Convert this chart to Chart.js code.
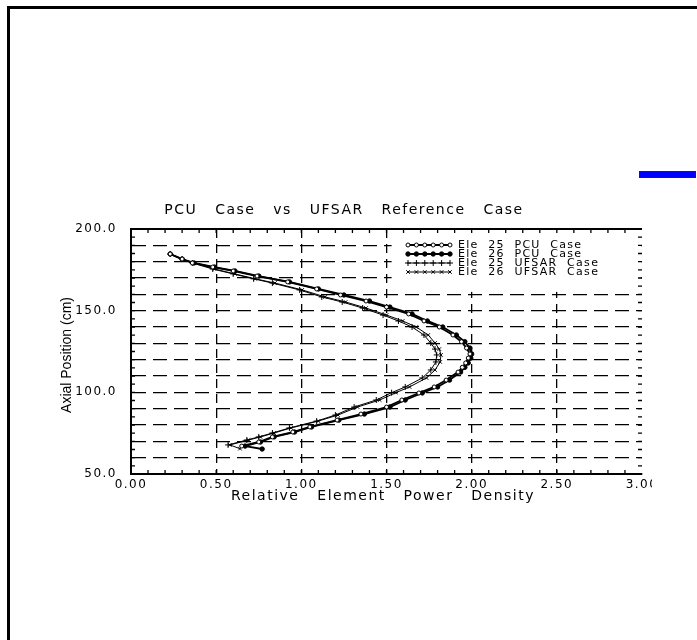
<!DOCTYPE html>
<html>
<head>
<meta charset="utf-8">
<script src="https://cdn.jsdelivr.net/npm/chart.js@4.4.1/dist/chart.umd.min.js"></script>
<style>
  html, body { margin: 0; padding: 0; background: #fff; }
  body { width: 697px; height: 640px; position: relative; overflow: hidden; }
  #frame { position: absolute; left: 7px; top: 6px; right: 0; bottom: 0; border-left: 3px solid #000; border-top: 3px solid #000; }
  #bar { position: absolute; left: 639px; top: 171px; width: 55px; height: 5px; background: #0000ff; border: 1px solid #222; }
  #wrap { position: absolute; left: 0; top: 0; width: 652px; height: 640px; }
</style>
</head>
<body>
<div id="frame"></div>
<div id="bar"></div>
<div id="wrap"><canvas id="chart"></canvas></div>
<script>
// axial position (cm) and relative element power density
const pcu25Y = [184.7, 181.6, 179.2, 176.7, 174.3, 171.2, 167.6, 163.3, 159.6, 155.9,
  152.2, 148.0, 143.7, 140.0, 135.1, 131.0, 127.1, 123.5, 121.0, 118.0,
  115.3, 112.4, 107.5, 103.3, 99.6, 95.3, 91.0, 86.7, 83.0, 78.8,
  75.7, 72.7, 69.6, 67.1];
const pcu25X = [0.23, 0.30, 0.36, 0.48, 0.60, 0.74, 0.92, 1.09, 1.23, 1.38,
  1.50, 1.63, 1.72, 1.81, 1.89, 1.94, 1.97, 1.99, 1.98, 1.965,
  1.945, 1.92, 1.85, 1.78, 1.69, 1.59, 1.50, 1.35, 1.21, 1.05,
  0.95, 0.83, 0.75, 0.65];

const pcu26Y = [184.7, 181.6, 179.2, 176.7, 174.3, 171.2, 167.6, 163.3, 159.6, 155.9,
  152.2, 148.0, 143.7, 140.0, 135.1, 131.0, 127.1, 123.5, 121.0, 118.0,
  115.3, 112.4, 107.5, 103.3, 99.6, 95.3, 91.0, 86.7, 83.0, 78.8,
  75.7, 72.7, 69.6, 67.1, 65.3];
const pcu26X = [0.23, 0.30, 0.37, 0.49, 0.61, 0.75, 0.93, 1.10, 1.25, 1.40,
  1.52, 1.65, 1.74, 1.83, 1.91, 1.96, 1.99, 2.00, 1.995, 1.98,
  1.96, 1.935, 1.87, 1.80, 1.71, 1.61, 1.52, 1.37, 1.22, 1.06,
  0.96, 0.84, 0.76, 0.67, 0.77];

const ufsar25Y = [184.7, 181.6, 179.2, 175.5, 172.5, 169.5, 166.9, 162.7, 158.4, 155.3,
  151.6, 147.3, 143.7, 140.0, 135.1, 130.2, 126.5, 122.9, 118.6, 113.7,
  108.8, 103.3, 99.8, 95.3, 91.0, 86.1, 82.4, 78.2, 75.1, 72.7,
  70.8, 67.8];
const ufsar25X = [0.23, 0.30, 0.36, 0.48, 0.60, 0.72, 0.83, 0.99, 1.12, 1.24,
  1.36, 1.48, 1.57, 1.65, 1.72, 1.76, 1.785, 1.795, 1.79, 1.76,
  1.71, 1.61, 1.53, 1.44, 1.31, 1.20, 1.09, 0.93, 0.83, 0.75,
  0.68, 0.57];

const ufsar26Y = [184.7, 181.6, 179.2, 175.5, 172.5, 169.5, 166.9, 162.7, 158.4, 155.3,
  151.6, 147.3, 143.7, 140.0, 135.1, 130.2, 126.5, 122.9, 118.6, 113.7,
  108.8, 103.3, 99.8, 95.3, 91.0, 86.1, 82.4, 78.2, 75.1, 72.7,
  70.8, 67.8, 65.5];
const ufsar26X = [0.23, 0.30, 0.37, 0.49, 0.61, 0.73, 0.845, 1.005, 1.14, 1.26,
  1.38, 1.50, 1.595, 1.675, 1.745, 1.785, 1.81, 1.82, 1.815, 1.785,
  1.735, 1.635, 1.555, 1.46, 1.33, 1.215, 1.10, 0.94, 0.84, 0.76,
  0.69, 0.58, 0.64];

const seriesNames = ['Ele  25  PCU  Case', 'Ele  26  PCU  Case', 'Ele  25  UFSAR  Case', 'Ele  26  UFSAR  Case'];
const xTickLabels = ['0.00', '0.50', '1.00', '1.50', '2.00', '2.50', '3.00'];
const yTickLabels = ['50.0', '100.0', '150.0', '200.0'];

const pts = (xs, ys) => xs.map((v, i) => ({ x: v, y: ys[i] }));

const chartText = {
  id: 'chartText',
  beforeDraw(chart) {
    chart.ctx.letterSpacing = '1.5px';
  },
  beforeDatasetsDraw(chart) {
    const { ctx, chartArea: a, scales: { x, y } } = chart;
    ctx.save();
    // blank space kept for the key
    const lx = x.getPixelForValue(1.53), ty = y.getPixelForValue(199.6);
    ctx.fillStyle = '#fff';
    ctx.fillRect(lx, ty, a.right - 1 - lx, y.getPixelForValue(161.5) - ty);
    // top edge
    ctx.strokeStyle = '#000';
    ctx.lineWidth = 2;
    ctx.beginPath();
    ctx.moveTo(a.left, a.top);
    ctx.lineTo(a.right, a.top);
    ctx.stroke();
    // minor ticks pointing inward
    ctx.lineWidth = 1.3;
    ctx.beginPath();
    for (let k = 1; k < 30; k++) {
      const px = x.getPixelForValue(k / 10);
      ctx.moveTo(px, a.bottom); ctx.lineTo(px, a.bottom - 4);
      ctx.moveTo(px, a.top); ctx.lineTo(px, a.top + 4);
    }
    for (let v = 55; v < 200; v += 5) {
      const py = y.getPixelForValue(v);
      ctx.moveTo(a.left, py); ctx.lineTo(a.left + 4, py);
      ctx.moveTo(a.right, py); ctx.lineTo(a.right - 4, py);
    }
    ctx.stroke();
    ctx.restore();
  },
  afterDraw(chart) {
    const { ctx, chartArea: a } = chart;
    ctx.save();
    ctx.fillStyle = '#000';
    ctx.textBaseline = 'middle';

    ctx.letterSpacing = '1.5px';
    ctx.font = '14px "DejaVu Sans"';
    ctx.textAlign = 'center';
    ctx.fillText('PCU   Case   vs   UFSAR   Reference   Case', 344, 210);
    ctx.fillText('Relative   Element   Power   Density', 383, 496);

    ctx.letterSpacing = '0px';
    ctx.font = '14px "Liberation Sans"';
    ctx.translate(67, 355);
    ctx.rotate(-Math.PI / 2);
    ctx.fillText('Axial Position (cm)', 0, 0);
    ctx.setTransform(1, 0, 0, 1, 0, 0);

    // key
    ctx.letterSpacing = '1.3px';
    ctx.font = '11px "DejaVu Sans"';
    ctx.textAlign = 'left';
    chart.data.datasets.forEach((ds, i) => {
      const yy = 245 + i * 9;
      ctx.strokeStyle = '#000';
      ctx.lineWidth = ds.borderWidth;
      ctx.beginPath();
      ctx.moveTo(407, yy);
      ctx.lineTo(450, yy);
      ctx.stroke();
      ctx.lineWidth = ds.pointBorderWidth;
      ctx.fillStyle = ds.pointBackgroundColor;
      for (let k = 0; k < 6; k++) {
        Chart.helpers.drawPoint(ctx, {
          pointStyle: ds.pointStyle, radius: ds.pointRadius,
          borderWidth: ds.pointBorderWidth, rotation: 0
        }, 408 + k * 8.4, yy);
      }
      ctx.fillStyle = '#000';
      ctx.fillText(seriesNames[i], 458, yy + 0.5);
    });
    ctx.restore();
  }
};

new Chart(document.getElementById('chart'), {
  type: 'scatter',
  data: {
    datasets: [
      { label: seriesNames[0], data: pts(pcu25X, pcu25Y), showLine: true, borderColor: '#000', borderWidth: 1.8,
        pointStyle: 'circle', pointRadius: 2, pointBackgroundColor: '#fff', pointBorderColor: '#000', pointBorderWidth: 1 },
      { label: seriesNames[1], data: pts(pcu26X, pcu26Y), showLine: true, borderColor: '#000', borderWidth: 1.8,
        pointStyle: 'circle', pointRadius: 2.2, pointBackgroundColor: '#000', pointBorderColor: '#000', pointBorderWidth: 1 },
      { label: seriesNames[2], data: pts(ufsar25X, ufsar25Y), showLine: true, borderColor: '#000', borderWidth: 1,
        pointStyle: 'cross', pointRadius: 3, pointBackgroundColor: '#000', pointBorderColor: '#000', pointBorderWidth: 1 },
      { label: seriesNames[3], data: pts(ufsar26X, ufsar26Y), showLine: true, borderColor: '#000', borderWidth: 1,
        pointStyle: 'crossRot', pointRadius: 2.5, pointBackgroundColor: '#000', pointBorderColor: '#000', pointBorderWidth: 1 }
    ]
  },
  options: {
    responsive: true,
    maintainAspectRatio: false,
    animation: false,
    layout: { padding: { left: 0, right: 10, top: 229, bottom: 136 } },
    plugins: { legend: { display: false }, tooltip: { enabled: false } },
    scales: {
      x: {
        type: 'linear', min: 0, max: 3,
        ticks: { stepSize: 0.5, autoSkip: false, padding: 4, color: '#000',
          font: { family: 'DejaVu Sans', size: 12 },
          callback: (v) => xTickLabels[Math.round(v * 2)] },
        grid: { drawTicks: false, lineWidth: 1.3,
          color: (c) => (c.tick && (c.tick.value === 0 || c.tick.value === 3)) ? 'rgba(0,0,0,0)' : '#000' },
        border: { display: true, color: '#000', width: 2, dash: [9, 6] },
        afterFit: (s) => { s.height = 30; s.paddingLeft = 0; s.paddingRight = 0; }
      },
      y: {
        type: 'linear', min: 50, max: 200,
        ticks: { stepSize: 10, autoSkip: false, padding: 14, color: '#000',
          font: { family: 'DejaVu Sans', size: 12 },
          callback: (v) => (v % 50 === 0 ? yTickLabels[v / 50 - 1] : '') },
        grid: { drawTicks: false, lineWidth: 1.3,
          color: (c) => (c.tick && (c.tick.value === 50 || c.tick.value === 200)) ? 'rgba(0,0,0,0)' : '#000' },
        border: { display: true, color: '#000', width: 2, dash: [14, 7] },
        afterFit: (s) => { s.width = 131; s.paddingTop = 0; s.paddingBottom = 0; }
      }
    }
  },
  plugins: [chartText]
});
</script>
</body>
</html>
